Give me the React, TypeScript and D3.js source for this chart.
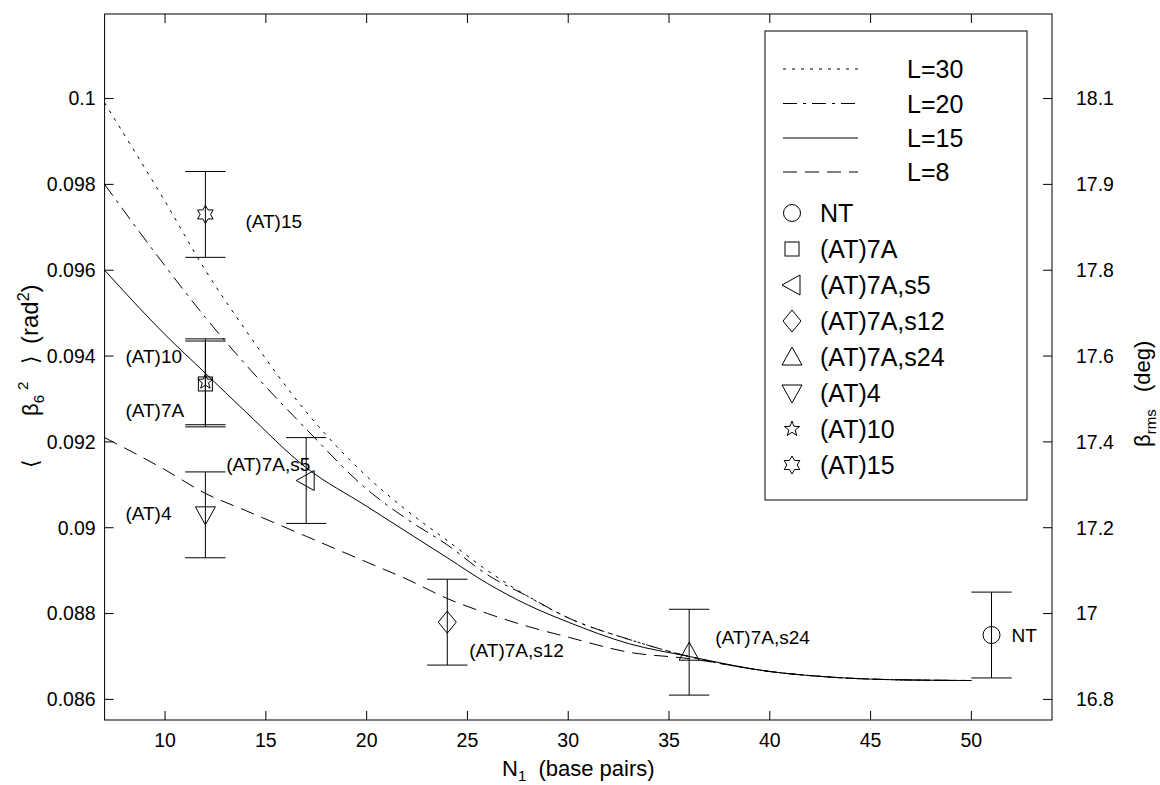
import React from "react";
import * as d3 from "d3";

// ---------- data ----------
const curveN = [7, 10, 12, 14, 17, 20, 22, 24, 26, 28, 30, 33, 36, 40, 43, 46, 50];
const curveL30 = [0.0999, 0.0976, 0.096, 0.0946, 0.0927, 0.0912, 0.0904, 0.0897, 0.089, 0.0884, 0.0879, 0.0874, 0.087, 0.08665, 0.08652, 0.08646, 0.08644];
const curveL20 = [0.098, 0.0961, 0.0949, 0.0938, 0.0923, 0.0909, 0.0902, 0.0896, 0.0889, 0.0884, 0.0879, 0.0874, 0.087, 0.08665, 0.08652, 0.08646, 0.08644];
const curveL15 = [0.096, 0.0945, 0.0936, 0.0927, 0.0914, 0.0905, 0.0899, 0.0893, 0.0887, 0.0882, 0.0878, 0.0873, 0.087, 0.08665, 0.08652, 0.08646, 0.08644];
const curveL8 = [0.0921, 0.09135, 0.0908, 0.0904, 0.0898, 0.0892, 0.0888, 0.08835, 0.088, 0.0877, 0.08745, 0.0871, 0.08695, 0.08665, 0.08652, 0.08646, 0.08644];

const curveNames = ["L=30", "L=20", "L=15", "L=8"];
const curveValues = [curveL30, curveL20, curveL15, curveL8];

const pointNames = ["NT", "(AT)7A", "(AT)7A,s5", "(AT)7A,s12", "(AT)7A,s24", "(AT)4", "(AT)10", "(AT)15"];
const pointN = [51, 12, 17, 24, 36, 12, 12, 12];
const pointValue = [0.0875, 0.09335, 0.0911, 0.0878, 0.0871, 0.0903, 0.0934, 0.0973];
const pointError = [0.001, 0.001, 0.001, 0.001, 0.001, 0.001, 0.001, 0.001];

const xTicks = [10, 15, 20, 25, 30, 35, 40, 45, 50];
const yTicks = [0.086, 0.088, 0.09, 0.092, 0.094, 0.096, 0.098, 0.1];
const yTickLabels = ["0.086", "0.088", "0.09", "0.092", "0.094", "0.096", "0.098", "0.1"];
const rightTickLabels = ["16.8", "17", "17.2", "17.4", "17.6", "17.8", "17.9", "18.1"];

// ---------- styles ----------
const FONT = "'Liberation Sans', Arial, Helvetica, sans-serif";
const dashes = ["3,6", "14,6,3,6", "", "14,8"];
const shapes = ["circle", "square", "triLeft", "diamond", "triUp", "triDown", "pentagram", "hexagram"];
// label offsets (px) relative to each point
const labelOffsets: [number, number][] = [
  [20, 0], [-80, 26], [-80, -16], [22, 28], [26, -15], [-80, -2], [-80, -25], [40, 7],
];

function starPath(cx: number, cy: number, n: number, ro: number, ri: number) {
  const pts: [number, number][] = [];
  for (let i = 0; i < 2 * n; i++) {
    const a = -Math.PI / 2 + (i * Math.PI) / n;
    const r = i % 2 === 0 ? ro : ri;
    pts.push([cx + r * Math.cos(a), cy + r * Math.sin(a)]);
  }
  return "M" + pts.map((p) => p.join(",")).join("L") + "Z";
}

function Marker({ shape, cx, cy }: { shape: string; cx: number; cy: number }) {
  const st = { fill: "none", stroke: "#000", strokeWidth: 1 };
  switch (shape) {
    case "circle":
      return <circle cx={cx} cy={cy} r={8.5} {...st} />;
    case "square":
      return <rect x={cx - 7} y={cy - 7} width={14} height={14} {...st} />;
    case "triLeft":
      return <polygon points={`${cx - 10},${cy} ${cx + 8},${cy - 10} ${cx + 8},${cy + 10}`} {...st} />;
    case "triUp":
      return <polygon points={`${cx},${cy - 10} ${cx - 10},${cy + 8} ${cx + 10},${cy + 8}`} {...st} />;
    case "triDown":
      return <polygon points={`${cx},${cy + 10} ${cx - 10},${cy - 8} ${cx + 10},${cy - 8}`} {...st} />;
    case "diamond":
      return <polygon points={`${cx},${cy - 11} ${cx + 9},${cy} ${cx},${cy + 11} ${cx - 9},${cy}`} {...st} />;
    case "pentagram":
      return <path d={starPath(cx, cy, 5, 8, 3.3)} {...st} />;
    case "hexagram":
      return <path d={starPath(cx, cy, 6, 9, 5.2)} {...st} />;
  }
  return null;
}

export default function App() {
  const W = 1160, H = 785;
  const x = d3.scaleLinear().domain([7, 54]).range([104.6, 1052]);
  const y = d3.scaleLinear().domain([0.08552, 0.10197]).range([720, 14]);
  const [x0, x1] = x.range();
  const [y0, y1] = y.range();
  const tick = 9;

  const line = d3
    .line<number>()
    .x((_, i) => x(curveN[i]))
    .y((d) => y(d))
    .curve(d3.curveMonotoneX);

  const legLineY = [69, 103.5, 138, 172];
  const legMarkY = [213, 249, 285, 321, 357, 393, 429, 465];

  return (
    <svg width={W} height={H} style={{ position: "absolute", left: 0, top: 0, background: "#fff" }} fontFamily={FONT}>
      <rect x={0} y={0} width={W} height={H} fill="#fff" />
      {/* curves */}
      {curveValues.map((vals, k) => (
        <path key={k} d={line(vals) || ""} fill="none" stroke="#000" strokeWidth={1} strokeDasharray={dashes[k]} />
      ))}
      {/* error bars & markers */}
      {pointNames.map((name, i) => {
        const cx = x(pointN[i]);
        const cy = y(pointValue[i]);
        const top = y(pointValue[i] + pointError[i]);
        const bot = y(pointValue[i] - pointError[i]);
        const cl = x(pointN[i] - 1);
        const cr = x(pointN[i] + 1);
        return (
          <g key={name}>
            <line x1={cx} x2={cx} y1={top} y2={bot} stroke="#000" strokeWidth={1} />
            <line x1={cl} x2={cr} y1={top} y2={top} stroke="#000" strokeWidth={1} />
            <line x1={cl} x2={cr} y1={bot} y2={bot} stroke="#000" strokeWidth={1} />
            <Marker shape={shapes[i]} cx={cx} cy={cy} />
            <text x={cx + labelOffsets[i][0]} y={cy + labelOffsets[i][1]} dy="0.35em" fontSize={19} fill="#000">
              {name}
            </text>
          </g>
        );
      })}
      {/* frame */}
      <rect x={x0} y={y1} width={x1 - x0} height={y0 - y1} fill="none" stroke="#000" strokeWidth={1} />
      {/* x ticks */}
      {xTicks.map((t) => (
        <g key={"x" + t}>
          <line x1={x(t)} x2={x(t)} y1={y0} y2={y0 - tick} stroke="#000" />
          <line x1={x(t)} x2={x(t)} y1={y1} y2={y1 + tick} stroke="#000" />
          <text x={x(t)} y={y0 + 27} textAnchor="middle" fontSize={19.5}>{t}</text>
        </g>
      ))}
      {/* y ticks left & right */}
      {yTicks.map((t, i) => (
        <g key={"y" + t}>
          <line x1={x0} x2={x0 + tick} y1={y(t)} y2={y(t)} stroke="#000" />
          <line x1={x1} x2={x1 - tick} y1={y(t)} y2={y(t)} stroke="#000" />
          <text x={x0 - 9} y={y(t)} dy="0.35em" textAnchor="end" fontSize={19.5}>{yTickLabels[i]}</text>
          <text x={x1 + 24} y={y(t)} dy="0.35em" textAnchor="start" fontSize={19.5}>{rightTickLabels[i]}</text>
        </g>
      ))}
      {/* x axis label */}
      <text x={(x0 + x1) / 2} y={776} textAnchor="middle" fontSize={22}>
        N<tspan fontSize={15} dy={5}>1</tspan>
        <tspan dy={-5}>{"\u00a0\u00a0(base pairs)"}</tspan>
      </text>
      {/* left y label (rotated, reads upward) */}
      <text transform="translate(38, 0) rotate(-90)" fontSize={22}>
        <tspan x={-468}>{"\u27e8"}</tspan>
        <tspan x={-416}>{"\u03b2"}</tspan>
        <tspan fontSize={15} dy={6}>6</tspan>
        <tspan x={-390} fontSize={15} dy={-16}>2</tspan>
        <tspan x={-364} dy={10}>{"\u27e9"}</tspan>
        <tspan x={-344} fontSize={24}>(rad</tspan>
        <tspan fontSize={16} dy={-9}>2</tspan>
        <tspan fontSize={24} dy={9}>)</tspan>
      </text>
      {/* right y label */}
      <text transform="translate(1150, 0) rotate(-90)" fontSize={22}>
        <tspan x={-447}>{"\u03b2"}</tspan>
        <tspan fontSize={15} dy={6}>rms</tspan>
        <tspan x={-392} dy={-6}>(deg)</tspan>
      </text>
      {/* legend */}
      <rect x={765} y={31} width={262} height={469} fill="#fff" stroke="#000" strokeWidth={1} />
      {curveNames.map((nm, k) => (
        <g key={nm}>
          <line x1={783} x2={858} y1={legLineY[k]} y2={legLineY[k]} stroke="#000" strokeDasharray={dashes[k]} />
          <text x={907} y={legLineY[k]} dy="0.36em" fontSize={25}>{nm}</text>
        </g>
      ))}
      {pointNames.map((nm, i) => (
        <g key={"lg" + nm}>
          <Marker shape={shapes[i]} cx={792} cy={legMarkY[i]} />
          <text x={820} y={legMarkY[i]} dy="0.36em" fontSize={25}>{nm}</text>
        </g>
      ))}
    </svg>
  );
}
